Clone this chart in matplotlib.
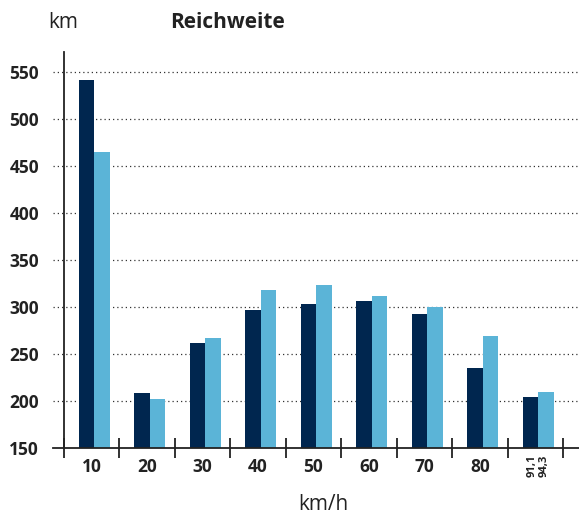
import numpy as np
import matplotlib.pyplot as plt
from matplotlib.transforms import blended_transform_factory

plt.rcParams['font.family'] = ['Open Sans', 'DejaVu Sans']

# data
speeds = ['10', '20', '30', '40', '50', '60', '70', '80', '91,1\n94,3']
range_dark = [541, 209, 262, 297, 303, 306, 292, 235, 204]
range_light = [465, 202, 267, 318, 323, 312, 300, 269, 210]
grid_vals = [200, 250, 300, 350, 400, 450, 500, 550]

dark = '#00264f'
light = '#5bb4d7'

fig = plt.figure(figsize=(5.79, 5.19), dpi=100)
ax = fig.add_axes([0.1105, 0.1368, 0.8619, 0.763])

x = np.arange(len(speeds))
w = 0.28
off = 0.05
ax.bar(x + off - w / 2, [v - 150 for v in range_dark], w, bottom=150, color=dark, zorder=3)
ax.bar(x + off + w / 2, [v - 150 for v in range_light], w, bottom=150, color=light, zorder=3)

ax.set_xlim(-0.5, len(speeds) - 0.5)
ax.set_ylim(150, 571)

# dotted grid reaching past the axes on both sides
trans = blended_transform_factory(ax.transAxes, ax.transData)
for g in grid_vals:
    ax.plot([-0.022, 1.035], [g, g], transform=trans, color='#333333',
            lw=0.9, ls=(0, (1, 2.4)), clip_on=False, zorder=1)
ax.plot([-0.022, 1.035], [150, 150], transform=trans, color='#222222',
        lw=1.3, clip_on=False, zorder=4)

for s in ['top', 'right', 'bottom']:
    ax.spines[s].set_visible(False)
ax.spines['left'].set_linewidth(1.3)
ax.spines['left'].set_color('#222222')

ax.set_yticks([150] + grid_vals)
ax.set_yticklabels([str(v) for v in [150] + grid_vals], fontsize=12.5, fontweight='bold', color='#222222')
ax.tick_params(axis='y', length=0, pad=18)

ax.set_xticks(x)
ax.set_xticklabels(speeds[:-1] + [''], fontsize=12.5, fontweight='bold', color='#222222')
ax.tick_params(axis='x', which='major', length=0, pad=7)
ax.set_xticks(np.arange(len(speeds) + 1) - 0.5, minor=True)
ax.tick_params(axis='x', which='minor', direction='inout', length=15, width=1.3, color='#222222')

ax.text(x[-1] + off, 143, speeds[-1], rotation=90, ha='center', va='top',
        fontsize=8, fontweight='bold', color='#222222', linespacing=1.1)

fig.text(0.083, 0.957, 'km', fontsize=15, color='#222222', va='center')
fig.text(0.293, 0.957, 'Reichweite', fontsize=15, fontweight='bold', color='#222222', va='center')
fig.text(0.558, 0.027, 'km/h', fontsize=15, color='#222222', ha='center', va='center')

fig.savefig('out.png', dpi=100)
